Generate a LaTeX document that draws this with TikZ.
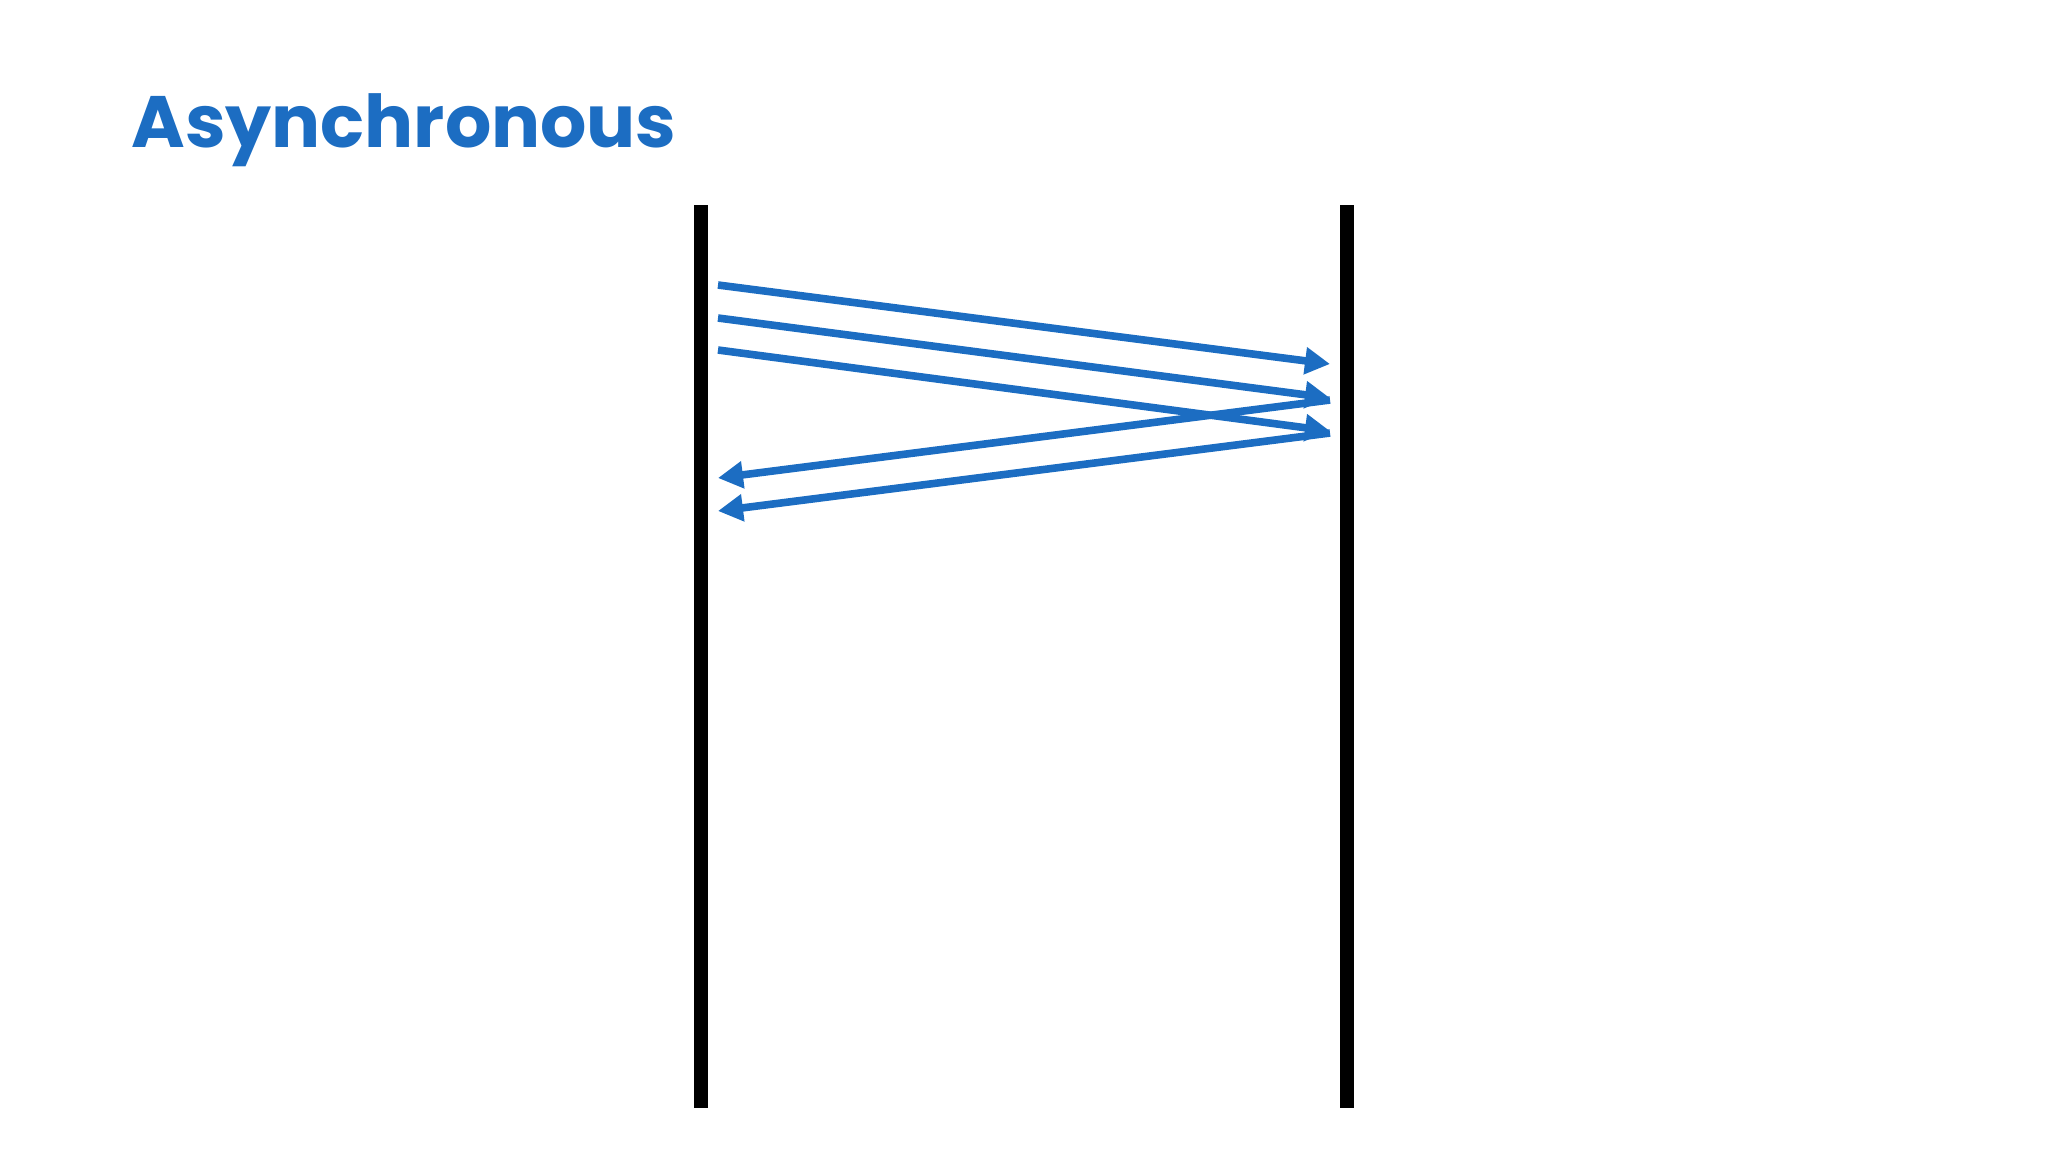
\documentclass[tikz,border=0pt]{standalone}
\usepackage{fontspec}
\setmainfont{Poppins}
\usepackage{tikz}
\usetikzlibrary{arrows.meta}
\definecolor{msgblue}{HTML}{1C6DC2}
\tikzset{
  lifeline/.style={line width=7pt, black},
  msg/.style={line width=3.8pt, msgblue, -{Triangle[length=12.5pt,width=13pt]}}
}

\begin{document}
\begin{tikzpicture}[x=0.5pt,y=-0.5pt]
    \useasboundingbox (0,0) rectangle (2048,1152);
    \node[anchor=base west, inner sep=0pt, text=msgblue,
      font=\fontsize{36.4}{44}\selectfont\bfseries] (title) at (131,147) {Asynchronous};
    % lifelines
    \coordinate (ltop) at (701,205);
    \coordinate (lbot) at (701,1108);
    \coordinate (rtop) at (1347,205);
    \coordinate (rbot) at (1347,1108);
    \draw[lifeline] (ltop) -- (lbot);
    \draw[lifeline] (rtop) -- (rbot);
    % message ends
    \coordinate (s1) at (718,285);
    \coordinate (s2) at (718,318);
    \coordinate (s3) at (718,350);
    \coordinate (e1) at (1330,364);
    \coordinate (e2) at (1330,398);
    \coordinate (e3) at (1330,431);
    \coordinate (r1) at (1330,400);
    \coordinate (r2) at (1330,433);
    \coordinate (f1) at (718,478);
    \coordinate (f2) at (718,511);
    \draw[msg] (s1) -- (e1);
    \draw[msg] (s2) -- (e2);
    \draw[msg] (s3) -- (e3);
    \draw[msg] (r1) -- (f1);
    \draw[msg] (r2) -- (f2);
\end{tikzpicture}
\end{document}
